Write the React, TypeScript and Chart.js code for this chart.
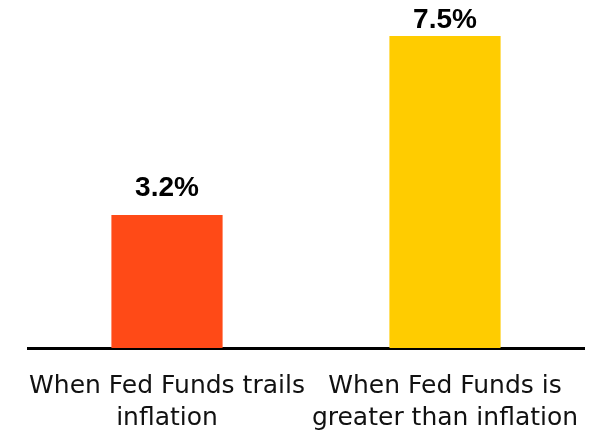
import React, { useEffect, useRef } from "react";
import { Chart, registerables } from "chart.js";

Chart.register(...registerables);

const categories: string[][] = [
  ["When Fed Funds trails", "inflation"],
  ["When Fed Funds is", "greater than inflation"],
];
const values: number[] = [3.2, 7.5];
const barColors: string[] = ["#FF4A17", "#FFCC00"];
const valueLabels: string[] = ["3.2%", "7.5%"];

const valueLabelPlugin = {
  id: "valueLabels",
  afterDatasetsDraw(chart: any) {
    const ctx = chart.ctx;
    const meta = chart.getDatasetMeta(0);
    ctx.save();
    ctx.font = "bold 28px 'Liberation Sans', Arial, sans-serif";
    ctx.fillStyle = "#000";
    ctx.textAlign = "center";
    ctx.textBaseline = "alphabetic";
    meta.data.forEach((bar: any, i: number) => {
      const base = Math.max(bar.y - 19, 28);
      ctx.fillText(valueLabels[i], bar.x, base);
    });
    ctx.restore();
  },
};

export default function App() {
  const ref = useRef<HTMLCanvasElement>(null);
  useEffect(() => {
    if (!ref.current) return;
    const chart = new Chart(ref.current, {
      type: "bar",
      data: {
        labels: categories,
        datasets: [
          {
            data: values,
            backgroundColor: barColors,
            barPercentage: 0.8,
            categoryPercentage: 0.5,
          },
        ],
      },
      options: {
        animation: false,
        responsive: false,
        devicePixelRatio: 1,
        layout: { padding: { top: 36, left: 28, right: 12, bottom: -7 } },
        plugins: { legend: { display: false }, tooltip: { enabled: false } },
        scales: {
          x: {
            grid: {
              display: true,
              drawOnChartArea: false,
              drawTicks: true,
              tickLength: 18,
              tickColor: "rgba(0,0,0,0)",
              color: "rgba(0,0,0,0)",
            },
            border: { display: true, color: "#000", width: 3 },
            ticks: {
              color: "#111",
              padding: 4,
              maxRotation: 0,
              autoSkip: false,
              font: { family: "'DejaVu Sans', sans-serif", size: 25, lineHeight: 1.28 },
            },
          },
          y: {
            display: false,
            min: 0,
            max: 7.5,
          },
        },
      },
      plugins: [valueLabelPlugin],
    });
    return () => chart.destroy();
  }, []);
  return (
    <div style={{ position: "absolute", left: 0, top: 0, width: 596, height: 431, background: "#fff", overflow: "hidden" }}>
      <canvas ref={ref} width={596} height={431} />
    </div>
  );
}
